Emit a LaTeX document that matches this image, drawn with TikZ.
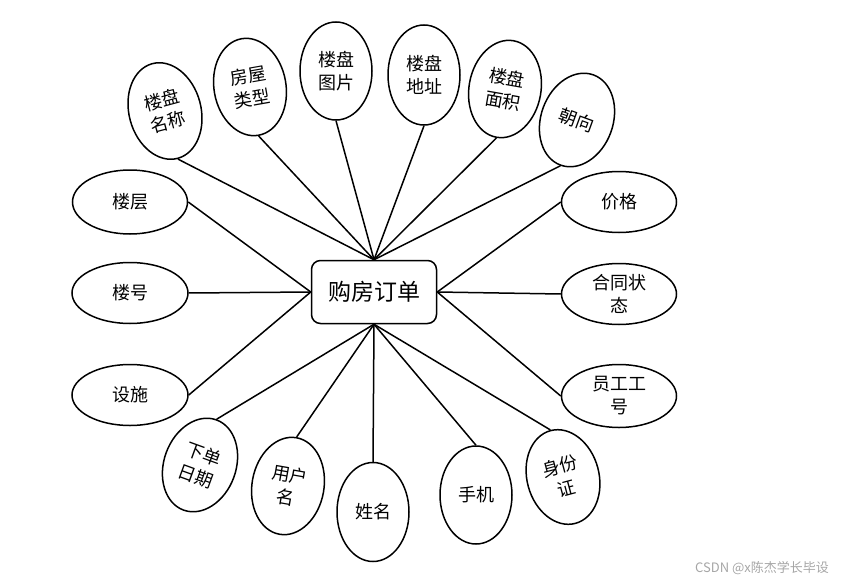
\documentclass[tikz,border=0pt]{standalone}
\usepackage{fontspec}
\usepackage{tikz}
\usetikzlibrary{shapes.geometric}
\newfontfamily\cjk{Noto Sans CJK SC}

\begin{document}
\begin{tikzpicture}[x=1pt, y=-1pt, line width=1.5pt,
    attr/.style={draw, ellipse, inner sep=0pt, align=center, font=\cjk\fontsize{18}{23}\selectfont},
    tall/.style={attr, minimum width=72pt, minimum height=98pt},
    wide/.style={attr, minimum width=115pt, minimum height=61pt},
    entity/.style={draw, rounded corners=9pt, minimum width=125pt, minimum height=63pt, font=\cjk\fontsize{23}{28}\selectfont}]
\useasboundingbox (0,0) rectangle (843,583);
\node[entity] (order) at (374,292) {购房订单};
% top
\node[tall, rotate=15] (mc) at (165,111) {楼盘\\名称};
\node[tall, rotate=10] (lx) at (250,87) {房屋\\类型};
\node[tall] (tp) at (336,71) {楼盘\\图片};
\node[tall, minimum height=100pt] (dz) at (424,75) {楼盘\\地址};
\node[tall, rotate=-10] (mj) at (505,89) {楼盘\\面积};
\node[tall, minimum height=96pt, rotate=-20] (cx) at (577,120) {朝向};
% right
\node[wide] (jg) at (619,202) {价格};
\node[wide] (zt) at (619,294) {合同状\\态};
\node[wide, minimum height=63pt] (gh) at (619,396) {员工工\\号};
% bottom
\node[tall, minimum height=96pt, rotate=15] (sfz) at (563,477) {身份\\证};
\node[tall] (sj) at (476,495) {手机};
\node[tall, minimum height=99pt] (xm) at (373,512) {姓名};
\node[tall, rotate=-10] (yhm) at (288,486) {用户\\名};
\node[tall, minimum height=96pt, rotate=-20] (rq) at (200,465) {下单\\日期};
% left
\node[wide, minimum width=116pt] (ss) at (130,395) {设施};
\node[wide, minimum width=116pt] (lh) at (130,293) {楼号};
\node[wide, minimum height=64pt] (lc) at (130,202) {楼层};
\foreach \n in {mc,lx,tp,dz,mj,cx}
  \draw (\n.south) -- (order.north);
\foreach \n in {jg,zt,gh}
  \draw (\n.west) -- (order.east);
\foreach \n in {sfz,sj,xm,yhm,rq}
  \draw (\n.north) -- (order.south);
\foreach \n in {ss,lh,lc}
  \draw (\n.east) -- (order.west);
\node[font=\cjk\fontsize{13}{15}\selectfont, text=black!35, anchor=east] (mark) at (833,568) {CSDN @x陈杰学长毕设};
\end{tikzpicture}
\end{document}
